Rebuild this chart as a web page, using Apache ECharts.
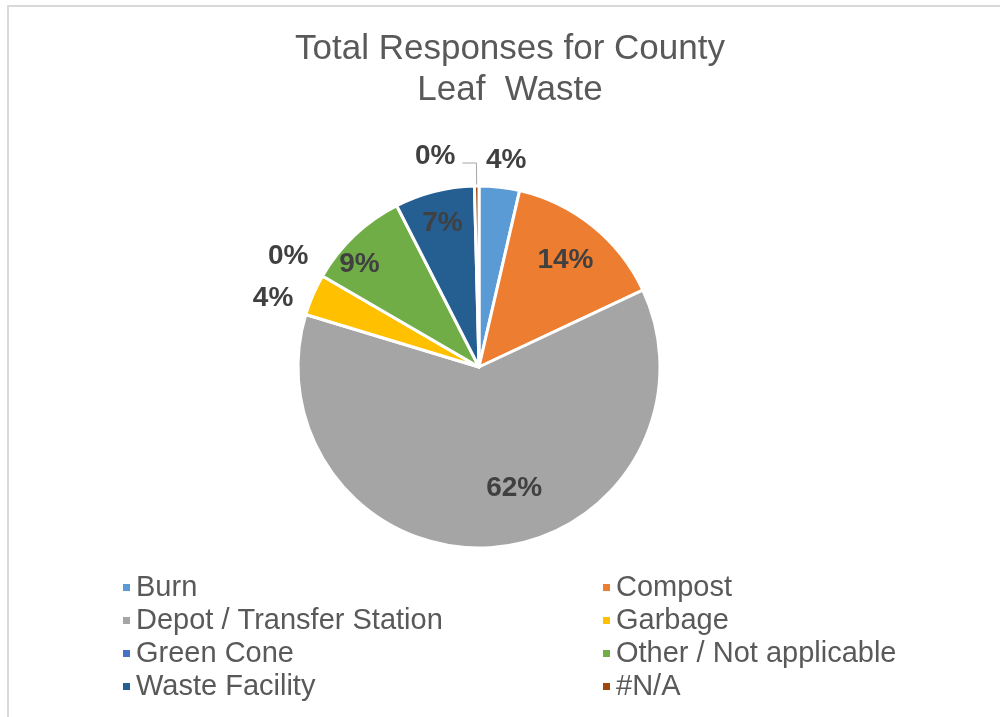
<!DOCTYPE html>
<html><head><meta charset="utf-8">
<script src="https://cdn.jsdelivr.net/npm/echarts@6/dist/echarts.min.js"></script>
<style>html,body{margin:0;padding:0;background:#fff}#c{width:1000px;height:717px}</style>
</head><body><div id="c"></div>
<script>
const titleLines = ['Total Responses for County', 'Leaf  Waste'];
const categories = ['Burn', 'Compost', 'Depot / Transfer Station', 'Garbage', 'Green Cone', 'Other / Not applicable', 'Waste Facility', '#N/A'];
const values = [3.6, 14.4, 61.6, 3.7, 0, 9.1, 7.1, 0.4];
const colors = ['#5B9BD5', '#ED7D31', '#A5A5A5', '#FFC000', '#4472C4', '#70AD47', '#255E91', '#9E480E'];
const legendLeft = ['Burn', 'Depot / Transfer Station', 'Green Cone', 'Waste Facility'];
const legendRight = ['Compost', 'Garbage', 'Other / Not applicable', '#N/A'];
// label placement styling: radial factor of the pie radius (null = outside with leader line), angular nudge in degrees
const labelRadius = [1.15, 0.76, 0.70, 1.20, 1.22, 0.87, 0.82, null];
const labelNudge = [1, 0, -12, -5, 0, -6, 0, 0];

const CX = 479, CY = 367, R = 181;
const FONT = "'Liberation Sans', Arial, sans-serif";
const chart = echarts.init(document.getElementById('c'));

const data = categories.map((name, i) => {
  const item = { name: name, value: values[i], itemStyle: { color: colors[i] } };
  if (labelRadius[i] === null) {
    item.label = { position: 'outside' };
    item.labelLine = { show: true };
  }
  return item;
});

const legendCommon = {
  orient: 'vertical', top: 568, itemWidth: 9, itemHeight: 9, itemGap: 4, icon: 'rect',
  selectedMode: false,
  textStyle: { fontSize: 29, lineHeight: 29, color: '#595959', fontFamily: FONT }
};

chart.setOption({
  animation: false,
  textStyle: { fontFamily: FONT },
  title: {
    text: titleLines.join('\n'), left: 510, textAlign: 'center', top: 29, padding: 0,
    textStyle: { fontSize: 35, lineHeight: 41, fontWeight: 'normal', color: '#595959', fontFamily: FONT }
  },
  legend: [
    Object.assign({}, legendCommon, { data: legendLeft, left: 116 }),
    Object.assign({}, legendCommon, { data: legendRight, left: 596 })
  ],
  graphic: [{
    type: 'rect', silent: true, z: -1,
    shape: { x: 8, y: 6, width: 1200, height: 1000 },
    style: { fill: 'none', stroke: '#d9d9d9', lineWidth: 2 }
  }],
  series: [{
    type: 'pie', center: [CX, CY], radius: R, startAngle: 90, clockwise: true,
    percentPrecision: 1, avoidLabelOverlap: false,
    itemStyle: { borderColor: '#ffffff', borderWidth: 3 },
    emphasis: { disabled: true },
    label: {
      show: true, position: 'inside',
      formatter: p => Math.round(p.percent) + '%',
      color: '#404040', fontSize: 28, fontWeight: 'bold', fontFamily: FONT, textBorderWidth: 0
    },
    labelLine: { show: false, length: 23, length2: 14, lineStyle: { color: '#a6a6a6', width: 1 } },
    labelLayout: function (p) {
      const i = p.dataIndex;
      if (labelRadius[i] === null) return { dy: -7, dx: -2 };
      const lx = p.labelRect.x + p.labelRect.width / 2;
      const ly = p.labelRect.y + p.labelRect.height / 2;
      const a = Math.atan2(ly - CY, lx - CX) + labelNudge[i] * Math.PI / 180;
      const rr = labelRadius[i] * R;
      return { x: CX + rr * Math.cos(a), y: CY + rr * Math.sin(a), align: 'center', verticalAlign: 'middle' };
    },
    data: data
  }]
});
</script>
</body></html>
